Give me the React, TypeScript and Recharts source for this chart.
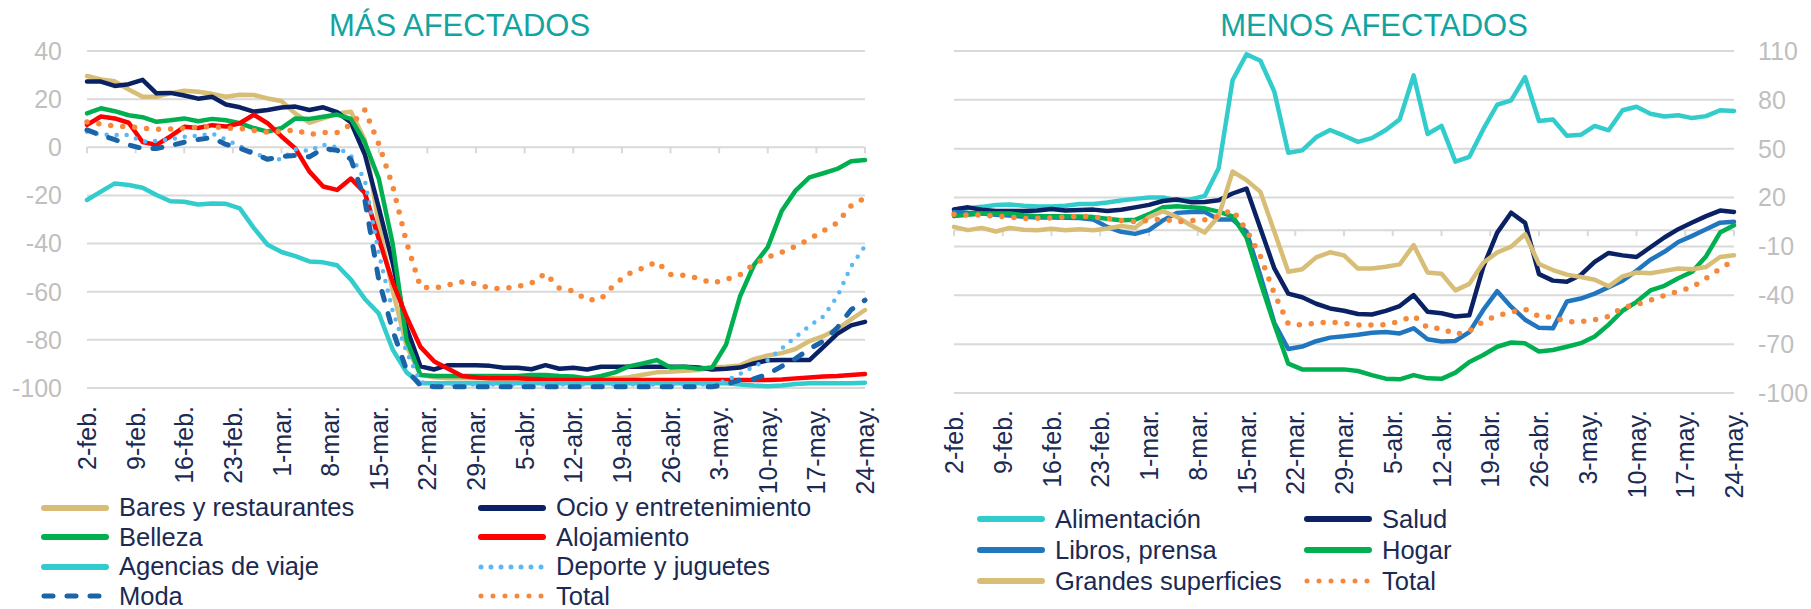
import React from "react";
import { LineChart, Line, XAxis, YAxis, CartesianGrid, ReferenceLine } from "recharts";

// Days since 2-feb (every second day)
const days = [
  0, 2, 4, 6, 8, 10, 12, 14, 16, 18, 20, 22, 24, 26, 28, 30, 32, 34, 36, 38,
  40, 42, 44, 46, 48, 50, 52, 54, 56, 58, 60, 62, 64, 66, 68, 70, 72, 74, 76, 78,
  80, 82, 84, 86, 88, 90, 92, 94, 96, 98, 100, 102, 104, 106, 108, 110, 112,
];

const weekTicks = [0, 7, 14, 21, 28, 35, 42, 49, 56, 63, 70, 77, 84, 91, 98, 105, 112];
const weekLabels = [
  "2-feb.", "9-feb.", "16-feb.", "23-feb.", "1-mar.", "8-mar.", "15-mar.", "22-mar.",
  "29-mar.", "5-abr.", "12-abr.", "19-abr.", "26-abr.", "3-may.", "10-may.", "17-may.", "24-may.",
];

const leftTicks = [40, 20, 0, -20, -40, -60, -80, -100];
const rightTicks = [110, 80, 50, 20, -10, -40, -70, -100];

// ---- MÁS AFECTADOS ----
const bares = [
  29.6, 28.2, 27.4, 24, 21, 21, 22.5, 23.5, 23.1, 22.2,
  21, 21.8, 21.7, 20.3, 19.2, 14, 10.2, 12, 14, 14.8,
  3, -32, -59.5, -82.5, -94.5, -95.5, -96, -96, -96, -96,
  -96, -96, -96, -96, -96, -96, -96, -96, -96, -95.5,
  -94.5, -93.5, -93.2, -92.8, -92.5, -91.5, -91.2, -90.6, -88, -86.5,
  -85.5, -83.8, -80.5, -78.5, -75.5, -71.5, -67.6,
];
const ocio = [
  27.3, 27.3, 25.5, 26.2, 28, 22.4, 22.6, 21.5, 20.2, 21,
  17.8, 16.6, 14.8, 15.5, 16.5, 16.9, 15.5, 16.6, 14.6, 10.3,
  -3, -25, -48, -75, -91, -92.3, -90.5, -90.5, -90.5, -90.8,
  -91.6, -91.6, -92.2, -90.5, -92, -91.6, -92.3, -91.2, -91.2, -91.2,
  -91.2, -91.2, -91.2, -91.2, -91.5, -92.3, -92, -91.5, -89.8, -88.5,
  -88.4, -88.4, -88.4, -83, -77.5, -74, -72.5,
];
const belleza = [
  14.1, 16.2, 15, 13.3, 12.5, 10.6, 11.2, 12, 10.8, 11.8,
  11.2, 10, 8, 6.5, 8, 12, 11.8, 12.7, 13.6, 11.8,
  2, -13, -40, -80, -94.6, -95, -95, -95, -95, -95,
  -95, -95, -94.6, -94.6, -95, -95.2, -96, -95, -93.5, -91,
  -89.8, -88.4, -91.5, -91.2, -92, -91.5, -82, -62, -49, -41.5,
  -26.5, -18, -12.5, -10.8, -9, -5.8, -5.3,
];
const alojamiento = [
  9.3, 12.8, 12, 10.2, 2.2, 1, 4.5, 8.5, 8, 9.2,
  8.6, 10, 13.5, 10, 4.5, -0.5, -10, -16.3, -17.7, -13,
  -19, -38, -56, -70.4, -82.9, -89, -92, -95, -95.6, -96,
  -96, -96, -96.3, -96.5, -96.7, -96.7, -96.7, -96.7, -96.7, -96.7,
  -96.7, -96.7, -96.7, -96.7, -96.7, -96.7, -96.7, -96.7, -96.7, -96.7,
  -96.5, -96, -95.6, -95.2, -95, -94.6, -94.2,
];
const agencias = [
  -21.9, -18.4, -15, -15.7, -16.8, -19.8, -22.4, -22.6, -23.8, -23.4,
  -23.5, -25.4, -33.5, -40.5, -43.5, -45.2, -47.4, -47.8, -49, -55,
  -63, -69, -84, -93.5, -98, -98, -98, -98, -98, -98,
  -98, -98, -98, -98, -98, -98, -98, -98, -98, -98,
  -98, -98, -98, -98, -98, -98, -98, -98.5, -99, -99.3,
  -99, -98.3, -98, -98, -98, -98, -97.8,
];
const deporte = [
  6.5, 5.2, 5.1, 5.1, 2.3, 2.6, 3.3, 4.4, 4.8, 5.7,
  3.2, 0.5, -2.2, -4.7, -5, -0.8, -1.5, 1, 0, -3.5,
  -13.6, -44, -68, -85, -97.5, -98.5, -98.5, -98.5, -98.5, -98.5,
  -98.5, -98.5, -98.5, -98.5, -98.5, -98.5, -98.5, -98.5, -98.5, -98.5,
  -98.5, -98.5, -98.5, -98.5, -98.5, -98.5, -97, -94.2, -91, -88.4,
  -83.6, -78.8, -74.2, -70.3, -62, -49.5, -41,
];
const moda = [
  7.2, 5, 3.2, 1, -0.5, -0.5, 0.7, 2.1, 3.2, 4,
  1.2, -0.4, -2.6, -5, -3.8, -3.4, -4, -0.5, -1.2, -5,
  -22, -55, -76, -92.5, -99, -99.5, -99.5, -99.5, -99.5, -99.5,
  -99.5, -99.5, -99.5, -99.5, -99.5, -99.5, -99.5, -99.5, -99.5, -99.5,
  -99.5, -99.5, -99.5, -99.5, -99.5, -99.5, -98.5, -96.7, -96.2, -94.3,
  -91, -87.8, -83.8, -80.5, -75, -67.5, -63.5,
];
const totalMas = [
  10.5, 9.6, 8.8, 8.6, 7.9, 7.5, 7.6, 7.9, 8.4, 8.6,
  8, 7.8, 7, 6.3, 6.6, 7.2, 5.3, 6.2, 6.1, 9.4,
  15.5, 1.4, -16, -39.5, -58, -58.5, -57.2, -55.9, -56.7, -58.6,
  -58.7, -57.8, -56.4, -52.4, -58.5, -59.7, -63.5, -63, -56.8, -52.5,
  -50.2, -47.6, -52.8, -53.2, -54.4, -56.4, -54.9, -53, -48.6, -45.6,
  -43.6, -41.1, -38.2, -34.7, -31.4, -24.3, -21,
];

// ---- MENOS AFECTADOS ----
const alimentacion = [
  12.7, 13.4, 14.3, 15.5, 15.8, 15, 14.5, 14.5, 15, 16,
  16, 17, 18.2, 19.2, 20, 20, 18.4, 18.8, 21, 38,
  92, 108, 104, 85, 47.5, 49, 57, 61.5, 58, 54.2,
  56.5, 61.5, 68, 95, 59, 64, 42, 45, 62, 77,
  79.7, 94, 67, 68, 58, 58.5, 64, 61.3, 73.6, 75.8,
  71.5, 69.8, 70.5, 68.8, 70, 73.6, 73.2,
];
const salud = [
  12.7, 14, 12.5, 11.8, 11.8, 11.8, 12, 13, 12, 12.3,
  12.6, 11.8, 12.5, 14, 15.5, 17.9, 18.8, 17.2, 17.3, 18.4,
  22.5, 25.5, 1, -23.5, -39, -41.2, -45.2, -48.1, -49.5, -51.5,
  -51.8, -49.6, -46.6, -39.9, -50.1, -51, -53, -52.2, -22.5, -1.5,
  10.7, 4.5, -27, -31, -31.7, -27.5, -19.5, -14, -15.5, -16.5,
  -10.5, -4.5, 0.6, 4.7, 8.6, 12, 11.2,
];
const libros = [
  11.2, 10.6, 10.2, 9.5, 9, 8.2, 7.8, 7.8, 7.6, 7.5,
  6.6, 2, -1, -2.3, 0, 6, 10.6, 11.2, 11.2, 6.5,
  6.5, -1, -28, -57, -73, -71.5, -68.2, -66, -65.2, -64.2,
  -63, -62.5, -63.4, -60.3, -67, -68.4, -68, -62.6, -49, -37.5,
  -47, -55, -60, -60.3, -43.8, -42, -39, -35, -31, -25,
  -18.2, -13.3, -7.3, -3.5, 0.5, 4.6, 5.1,
];
const hogar = [
  8.6, 9.5, 10.2, 10.2, 10.2, 9.2, 8.6, 8.6, 8.6, 8.4,
  8, 7, 6.1, 6.4, 9.8, 14, 14.6, 14, 13.4, 11.4,
  8.5, -4.5, -32, -58, -82, -85.5, -85.5, -85.5, -85.5, -86.5,
  -89, -91.2, -91.6, -89, -91, -91.3, -87.5, -81, -76.7, -71.6,
  -69, -69.5, -74.5, -73.6, -71.6, -69.4, -65.3, -58, -49.5, -44,
  -37, -34.2, -29.5, -25.5, -16, -1.5, 3,
];
const grandes = [
  2, 0, 1.4, -0.8, 1.4, 0.2, 0, 0.8, 0, 0.6,
  0, 1, 2.5, 1.5, 8, 11.7, 8.2, 3, -1.5, 8.5,
  36, 30.7, 23.5, -1, -25.5, -24, -16.7, -13.6, -15.5, -23.6,
  -23.6, -22.5, -21, -9.2, -26, -26.8, -37, -33, -20, -13.7,
  -10.1, -2.5, -20.8, -24.5, -27.3, -28.8, -30.5, -34.5, -28.4, -26,
  -26.5, -25, -23.6, -24, -22.6, -16.5, -15.4,
];
const totalMenos = [
  9.8, 9.3, 9.3, 8.6, 8, 7.1, 7.3, 7.5, 8, 8.6,
  8, 7.2, 6, 5.2, 6, 7, 5.1, 5.8, 6.4, 8.6,
  12.5, 0, -16, -39, -57.5, -58.3, -57, -56.3, -57.3, -58.3,
  -58.3, -58, -56, -52.5, -60, -60.3, -64, -62, -56, -52.5,
  -50.5, -48.5, -53, -53.6, -56.2, -56.2, -55, -53, -47.5, -45.8,
  -43, -40.2, -37.5, -35, -29.5, -23.8, -18.5,
];

const FONT = "'Liberation Sans', Arial, sans-serif";
const GRID = "#d9d9d9";
const AXIS_TEXT = "#bfbfbf";
const LABEL = "#1b2a52";
const TITLE = "#13a4a2";

interface SeriesDef {
  key: string;
  name: string;
  values: number[];
  color: string;
  width: number;
  dash?: string;
}

const leftSeries: SeriesDef[] = [
  { key: "bares", name: "Bares y restaurantes", values: bares, color: "#d8bd76", width: 4.5 },
  { key: "ocio", name: "Ocio y entretenimiento", values: ocio, color: "#0a2263", width: 4.5 },
  { key: "belleza", name: "Belleza", values: belleza, color: "#00b050", width: 4.5 },
  { key: "alojamiento", name: "Alojamiento", values: alojamiento, color: "#ff0000", width: 4.5 },
  { key: "agencias", name: "Agencias de viaje", values: agencias, color: "#33cccc", width: 4.5 },
  { key: "deporte", name: "Deporte y juguetes", values: deporte, color: "#5ab8f5", width: 4.5, dash: "0 10" },
  { key: "moda", name: "Moda", values: moda, color: "#1c64aa", width: 5, dash: "9 14" },
  { key: "total", name: "Total", values: totalMas, color: "#f5883a", width: 5.5, dash: "0 12" },
];

const rightSeries: SeriesDef[] = [
  { key: "alimentacion", name: "Alimentación", values: alimentacion, color: "#33cccc", width: 4.5 },
  { key: "salud", name: "Salud", values: salud, color: "#0a2263", width: 4.5 },
  { key: "libros", name: "Libros, prensa", values: libros, color: "#2176c0", width: 4.5 },
  { key: "hogar", name: "Hogar", values: hogar, color: "#00b050", width: 4.5 },
  { key: "grandes", name: "Grandes superficies", values: grandes, color: "#d8bd76", width: 4.5 },
  { key: "total", name: "Total", values: totalMenos, color: "#f5883a", width: 5.5, dash: "0 12" },
];

const buildRows = (series: SeriesDef[]) =>
  days.map((day, i) => {
    const row: Record<string, number> = { day };
    series.forEach((s) => {
      row[s.key] = s.values[i];
    });
    return row;
  });

const leftRows = buildRows(leftSeries);
const rightRows = buildRows(rightSeries);

const DateTick = (props: any) => {
  const { x, y, payload } = props;
  const label = weekLabels[weekTicks.indexOf(payload.value)];
  return (
    <text
      x={x}
      y={y}
      transform={`rotate(-90 ${x} ${y})`}
      textAnchor="end"
      dominantBaseline="central"
      fill={LABEL}
      fontSize={25}
      fontFamily={FONT}
    >
      {label}
    </text>
  );
};

function LegendBlock({
  series,
  left,
  top,
  colWidth,
  rowHeight,
}: {
  series: SeriesDef[];
  left: number;
  top: number;
  colWidth: number;
  rowHeight: number;
}) {
  return (
    <div
      style={{
        position: "absolute",
        left,
        top,
        display: "grid",
        gridTemplateColumns: `${colWidth}px auto`,
        gridAutoRows: `${rowHeight}px`,
      }}
    >
      {series.map((s) => (
        <div key={s.key} style={{ display: "flex", alignItems: "center" }}>
          <svg width={70} height={12} style={{ flex: "none" }}>
            <line
              x1={4}
              y1={6}
              x2={66}
              y2={6}
              stroke={s.color}
              strokeWidth={s.dash ? 5 : 6}
              strokeLinecap="round"
              strokeDasharray={s.dash}
            />
          </svg>
          <span
            style={{
              marginLeft: 9,
              fontSize: 25.5,
              color: LABEL,
              fontFamily: FONT,
              whiteSpace: "nowrap",
              lineHeight: "25px",
            }}
          >
            {s.name}
          </span>
        </div>
      ))}
    </div>
  );
}

const renderLines = (series: SeriesDef[]) =>
  series.map((s) => (
    <Line
      key={s.key}
      type="linear"
      dataKey={s.key}
      name={s.name}
      stroke={s.color}
      strokeWidth={s.width}
      strokeDasharray={s.dash}
      strokeLinecap="round"
      strokeLinejoin="round"
      dot={false}
      activeDot={false}
      isAnimationActive={false}
    />
  ));

export default function App() {
  return (
    <div
      style={{
        position: "absolute",
        left: 0,
        top: 0,
        width: 1811,
        height: 609,
        background: "#fff",
        fontFamily: FONT,
        overflow: "hidden",
      }}
    >
      <div
        style={{
          position: "absolute",
          left: 0,
          width: 919,
          top: 10,
          textAlign: "center",
          fontSize: 31,
          lineHeight: "31px",
          color: TITLE,
        }}
      >
        MÁS AFECTADOS
      </div>
      <div
        style={{
          position: "absolute",
          left: 874,
          width: 1000,
          top: 10,
          textAlign: "center",
          fontSize: 31,
          lineHeight: "31px",
          color: TITLE,
        }}
      >
        MENOS AFECTADOS
      </div>

      <div style={{ position: "absolute", left: 0, top: 0 }}>
        <LineChart width={905} height={609} data={leftRows} margin={{ top: 51, right: 40, bottom: 0, left: 7 }}>
          <CartesianGrid vertical={false} stroke={GRID} strokeWidth={2} />
          <XAxis
            dataKey="day"
            type="number"
            domain={[0, 112]}
            ticks={weekTicks}
            interval={0}
            axisLine={false}
            tickLine={false}
            tickSize={0}
            tickMargin={18}
            height={221}
            tick={(p: any) => <DateTick {...p} />}
          />
          <YAxis
            domain={[-100, 40]}
            ticks={leftTicks}
            interval={0}
            axisLine={false}
            tickLine={false}
            tickSize={0}
            tickMargin={25}
            width={80}
            tick={{ fill: AXIS_TEXT, fontSize: 25, fontFamily: FONT }}
          />
          {weekTicks.map((d) => (
            <ReferenceLine
              key={`lt${d}`}
              segment={[
                { x: d, y: 0 },
                { x: d, y: -2.5 },
              ]}
              stroke={GRID}
              strokeWidth={2}
            />
          ))}
          {renderLines(leftSeries)}
        </LineChart>
      </div>

      <div style={{ position: "absolute", left: 905, top: 0 }}>
        <LineChart width={906} height={609} data={rightRows} margin={{ top: 51, right: 7, bottom: 0, left: 49 }}>
          <CartesianGrid vertical={false} stroke={GRID} strokeWidth={2} />
          <XAxis
            dataKey="day"
            type="number"
            domain={[0, 112]}
            ticks={weekTicks}
            interval={0}
            axisLine={false}
            tickLine={false}
            tickSize={0}
            tickMargin={17}
            height={216}
            tick={(p: any) => <DateTick {...p} />}
          />
          <YAxis
            orientation="right"
            domain={[-100, 110]}
            ticks={rightTicks}
            interval={0}
            axisLine={false}
            tickLine={false}
            tickSize={0}
            tickMargin={24}
            width={70}
            tick={{ fill: AXIS_TEXT, fontSize: 25, fontFamily: FONT }}
          />
          <ReferenceLine y={0} stroke={GRID} strokeWidth={2} />
          {weekTicks.map((d) => (
            <ReferenceLine
              key={`rt${d}`}
              segment={[
                { x: d, y: 0 },
                { x: d, y: -3.7 },
              ]}
              stroke={GRID}
              strokeWidth={2}
            />
          ))}
          {renderLines(rightSeries)}
        </LineChart>
      </div>

      <LegendBlock series={leftSeries} left={40} top={493} colWidth={437} rowHeight={29.5} />
      <LegendBlock series={rightSeries} left={976} top={503.5} colWidth={327} rowHeight={31} />
    </div>
  );
}
